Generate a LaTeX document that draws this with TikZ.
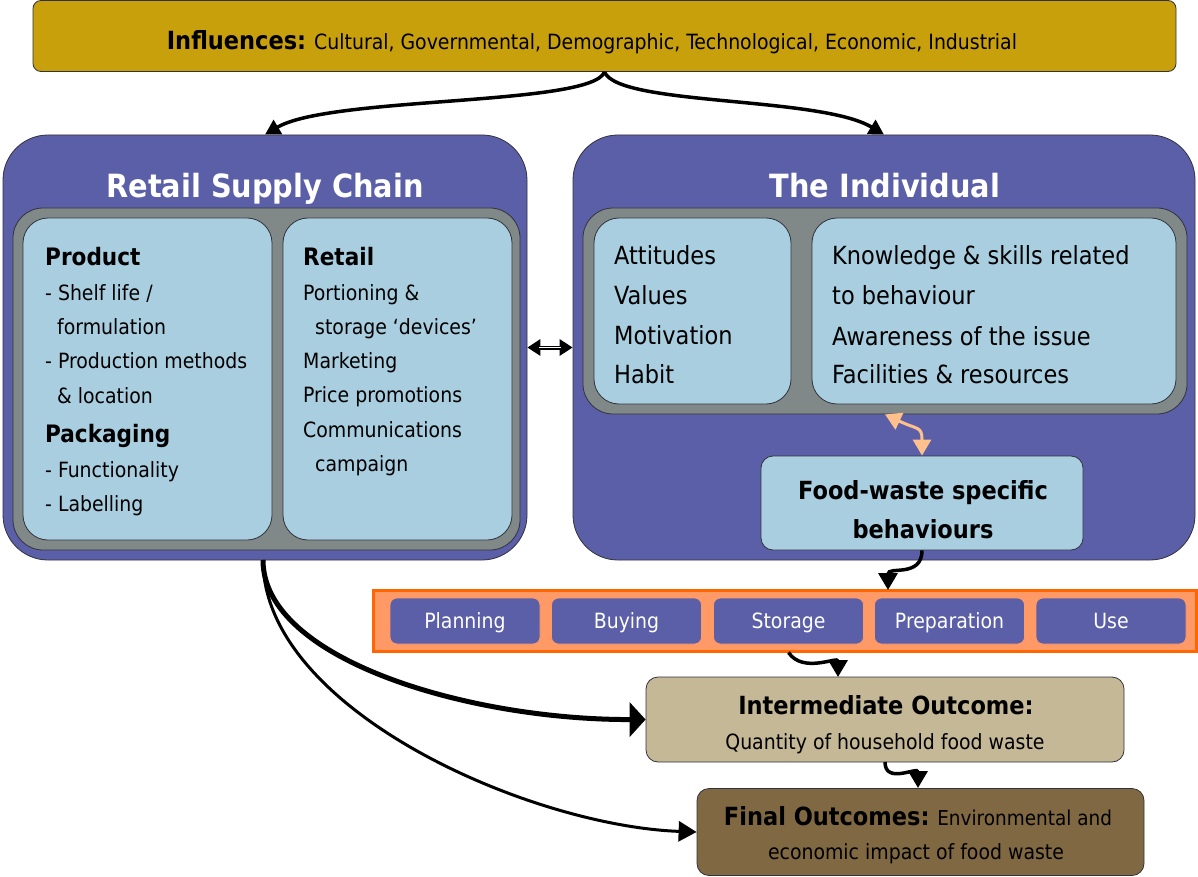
\documentclass[tikz,border=0pt]{standalone}
\usepackage{fontspec}
\setmainfont{DejaVu Sans Condensed}
\usetikzlibrary{arrows.meta}
\definecolor{gold}{RGB}{200,160,12}
\definecolor{purp}{RGB}{90,95,168}
\definecolor{greyin}{RGB}{128,136,136}
\definecolor{lblue}{RGB}{168,206,224}
\definecolor{orfill}{RGB}{255,153,102}
\definecolor{orline}{RGB}{255,102,0}
\definecolor{tanbox}{RGB}{196,184,151}
\definecolor{brownbox}{RGB}{128,105,66}
\definecolor{peach}{RGB}{255,192,140}
\definecolor{edgec}{RGB}{50,50,60}
\newcommand\fsz[1]{\fontsize{#1}{#1}\selectfont}
\begin{document}
\begin{tikzpicture}[x=1pt,y=-1pt,
  box/.style={draw=edgec, line width=0.8pt, inner sep=0pt},
  txt/.style={inner sep=0pt, anchor=west, text height=19pt, text depth=0pt},
  ctxt/.style={inner sep=0pt, anchor=center, text height=19pt, text depth=0pt},
  body/.style={txt, font=\fsz{21}, text height=17pt},
  bigbody/.style={txt, font=\fsz{25}},
  head/.style={txt, font=\bfseries\fsz{24}},
  title/.style={ctxt, text=white, font=\bfseries\fsz{32}, text height=23pt},
  stepbox/.style={box, draw=orfill, fill=purp, rounded corners=7pt, minimum width=150pt, minimum height=46pt, text=white, font=\fsz{21}, text height=15pt, text depth=0pt},
  arr/.style={line width=3.5pt, -{Triangle[length=15pt,width=16pt]}},
  smallarr/.style={line width=3.5pt, -{Triangle[length=17pt,width=19pt]}},
]
\useasboundingbox (0,0) rectangle (1198,877);

% Influences
\node[box, fill=gold, rounded corners=8pt, minimum width=1143pt, minimum height=71pt] (infl) at (604.5,36) {};
\node[ctxt, font=\fsz{21}, text height=17.5pt] (infltxt) at (592,41) {{\bfseries\fsz{25}Influences:} Cultural, Governmental, Demographic, Technological, Economic, Industrial};

% Retail Supply Chain
\node[box, fill=purp, rounded corners=45pt, minimum width=524pt, minimum height=425pt] (rsc) at (265,347.5) {};
\node[title] (rsctitle) at (265,186) {Retail Supply Chain};
\node[box, fill=greyin, rounded corners=30pt, minimum width=507pt, minimum height=342pt] (rscg) at (266.5,379) {};
\node[box, fill=lblue, rounded corners=25pt, minimum width=249pt, minimum height=322pt] (prod) at (147.5,379) {};
\node[box, fill=lblue, rounded corners=25pt, minimum width=229pt, minimum height=322pt] (retl) at (397.5,379) {};

\node[head] (p1) at (45,256) {Product};
\node[body] (p2) at (45,292) {- Shelf life /};
\node[body] (p3) at (57,326) {formulation};
\node[body] (p4) at (45,360) {- Production methods};
\node[body] (p5) at (57,395) {\& location};
\node[head] (p6) at (45,433) {Packaging};
\node[body] (p7) at (45,469) {- Functionality};
\node[body] (p8) at (45,503) {- Labelling};

\node[head] (r1) at (303,256) {Retail};
\node[body] (r2) at (303,292) {Portioning \&};
\node[body] (r3) at (315,326) {storage ‘devices’};
\node[body] (r4) at (303,360) {Marketing};
\node[body] (r5) at (303,394) {Price promotions};
\node[body] (r6) at (303,429) {Communications};
\node[body] (r7) at (315,463) {campaign};

% The Individual
\node[box, fill=purp, rounded corners=45pt, minimum width=622pt, minimum height=425pt] (ind) at (884,347.5) {};
\node[title] (indtitle) at (885,186) {The Individual};
\node[box, fill=greyin, rounded corners=30pt, minimum width=604pt, minimum height=206pt] (indg) at (885,311) {};
\node[box, fill=lblue, rounded corners=25pt, minimum width=197pt, minimum height=186pt] (att) at (692.5,311) {};
\node[box, fill=lblue, rounded corners=25pt, minimum width=364pt, minimum height=186pt] (know) at (994,311) {};

\node[bigbody] (a1) at (614,255) {Attitudes};
\node[bigbody] (a2) at (614,295) {Values};
\node[bigbody] (a3) at (614,335) {Motivation};
\node[bigbody] (a4) at (614,374) {Habit};

\node[bigbody] (k1) at (832,255) {Knowledge \& skills related};
\node[bigbody] (k2) at (832,295) {to behaviour};
\node[bigbody] (k3) at (832,336) {Awareness of the issue};
\node[bigbody] (k4) at (832,374) {Facilities \& resources};

\node[box, fill=lblue, rounded corners=12pt, minimum width=322pt, minimum height=94pt] (food) at (922,503) {};
\node[ctxt, font=\bfseries\fsz{25}] (f1) at (923,490) {Food-waste specific};
\node[ctxt, font=\bfseries\fsz{25}] (f2) at (923,529) {behaviours};

% Steps strip
\node[draw=orline, line width=3pt, fill=orfill, minimum width=823pt, minimum height=61pt, inner sep=0pt] (strip) at (784.5,620.5) {};
\node[stepbox] (s1) at (465,621) {Planning};
\node[stepbox] (s2) at (626.5,621) {Buying};
\node[stepbox] (s3) at (788.5,621) {Storage};
\node[stepbox] (s4) at (949.5,621) {Preparation};
\node[stepbox] (s5) at (1111,621) {Use};

% Outcomes
\node[box, fill=tanbox, rounded corners=12pt, minimum width=478pt, minimum height=85pt] (inter) at (885,719.5) {};
\node[ctxt, font=\bfseries\fsz{25}] (i1) at (886,705) {Intermediate Outcome:};
\node[ctxt, font=\fsz{21}, text height=17pt] (i2) at (885,741) {Quantity of household food waste};

\node[box, fill=brownbox, rounded corners=12pt, minimum width=447pt, minimum height=87pt] (final) at (920.5,832) {};
\node[ctxt, font=\fsz{20.5}, text height=18pt] (o1) at (918,816) {{\bfseries\fsz{25}Final Outcomes:} Environmental and};
\node[ctxt, font=\fsz{21}, text height=17pt] (o2) at (916,851) {economic impact of food waste};

% Connectors
\draw[arr] (infl.south) .. controls (592,106) and (330,96) .. (rsc.north);
\draw[arr] (infl.south) .. controls (618,106) and (820,96) .. (ind.north);

\draw[line width=4pt, {Triangle[length=13pt,width=16pt]}-{Triangle[length=13pt,width=16pt]}] (rsc.east) -- (ind.west);
\draw[white, line width=1.3pt, shorten <=12pt, shorten >=12pt] (rsc.east) -- (ind.west);

\draw[peach, line width=3pt, {Triangle[length=16pt,width=18pt]}-{Triangle[length=16pt,width=18pt]}] (indg.south) .. controls (918,430) and (922,426) .. (food.north);

\coordinate (fs) at (food.south);
\coordinate (stripin) at (888,590);
\draw[smallarr] (fs) .. controls (922,578) and (888,566) .. (stripin);

\coordinate (stout) at (strip.south -| s3);
\coordinate (interin) at (838,677);
\draw[smallarr] (stout) .. controls (803,674) and (838,656) .. (interin);

\coordinate (interout) at (885,762);
\coordinate (finalin) at (918,788);
\draw[smallarr] (interout) .. controls (885,785) and (918,766) .. (finalin);

\coordinate (rscout) at (263,560);
\draw[line width=5pt, -{Triangle[length=16pt,width=34pt]}] (rscout) .. controls (263,660) and (470,720) .. (inter.west);
\draw[line width=3pt, -{Triangle[length=18pt,width=20pt]}] (rscout) .. controls (263,710) and (530,826) .. (final.west);
\end{tikzpicture}
\end{document}
